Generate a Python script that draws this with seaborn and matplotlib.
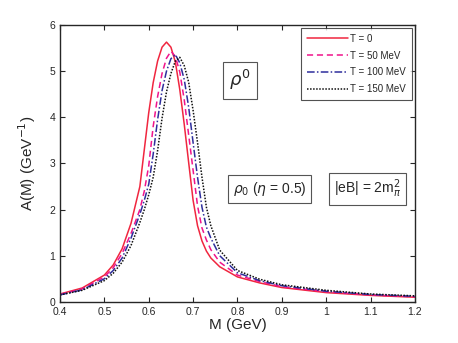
import numpy as np
import pandas as pd
import matplotlib
matplotlib.use("Agg")
import matplotlib.pyplot as plt
import seaborn as sns

# invariant mass grid (GeV)
mass = [0.40, 0.45, 0.50, 0.52, 0.54, 0.56, 0.58, 0.59, 0.60, 0.61, 0.62, 0.63,
        0.64, 0.65, 0.66, 0.67, 0.68, 0.69, 0.70, 0.71, 0.72, 0.73, 0.74, 0.76,
        0.80, 0.85, 0.90, 1.00, 1.10, 1.20]

# spectral function A(M) for each temperature
a_t0 = [0.17, 0.30, 0.58, 0.80, 1.15, 1.70, 2.50, 3.30, 4.10, 4.75, 5.22, 5.52,
        5.63, 5.52, 5.20, 4.60, 3.85, 3.02, 2.20, 1.65, 1.32, 1.10, 0.95, 0.76,
        0.54, 0.41, 0.31, 0.20, 0.14, 0.10]
a_t50 = [0.16, 0.28, 0.54, 0.74, 1.05, 1.48, 2.00, 2.40, 2.95, 3.80, 4.45, 4.95,
         5.28, 5.43, 5.32, 4.98, 4.38, 3.62, 2.85, 2.08, 1.60, 1.34, 1.13, 0.86,
         0.58, 0.44, 0.33, 0.22, 0.15, 0.11]
a_t100 = [0.15, 0.26, 0.50, 0.68, 0.95, 1.38, 1.90, 2.20, 2.55, 3.20, 3.95, 4.58,
          5.00, 5.27, 5.36, 5.18, 4.82, 4.22, 3.45, 2.70, 2.05, 1.62, 1.38, 1.00,
          0.63, 0.46, 0.35, 0.23, 0.16, 0.12]
a_t150 = [0.15, 0.25, 0.46, 0.62, 0.86, 1.22, 1.72, 2.00, 2.32, 2.70, 3.28, 3.98,
          4.55, 4.95, 5.22, 5.30, 5.12, 4.76, 4.15, 3.45, 2.70, 2.05, 1.65, 1.12,
          0.68, 0.49, 0.37, 0.25, 0.17, 0.13]

labels = ["T = 0", "T = 50 MeV", "T = 100 MeV", "T = 150 MeV"]
series = [a_t0, a_t50, a_t100, a_t150]
colors = ["#f0263f", "#f0148c", "#2e2e9c", "#111111"]
styles = ["-", (0, (4, 2.5)), (0, (5, 1.5, 1, 1.5)), (0, (1, 1))]

sns.set_style("ticks")
plt.rcParams['font.family'] = ['Liberation Sans', 'DejaVu Sans']
plt.rcParams['mathtext.fontset'] = 'dejavusans'

fig = plt.figure(figsize=(4.58, 3.43), dpi=100)
ax = fig.add_axes([0.131, 0.120, 0.775, 0.807])

for lab, vals, c, ls in zip(labels, series, colors, styles):
    df = pd.DataFrame({"M": mass, "A": vals})
    sns.lineplot(data=df, x="M", y="A", ax=ax, color=c, lw=1.1,
                 linestyle=ls, label=lab)

ax.set_xlim(0.4, 1.2)
ax.set_ylim(0, 6)
ax.set_xticks(np.arange(0.4, 1.21, 0.1))
ax.set_xticklabels(["0.4", "0.5", "0.6", "0.7", "0.8", "0.9", "1", "1.1", "1.2"])
ax.set_yticks(range(0, 7))
ax.tick_params(direction="in", top=True, right=True, labelsize=7.5,
               length=3.5, width=0.8, colors="#262626")
for sp in ax.spines.values():
    sp.set_visible(True)
    sp.set_linewidth(1.0)
    sp.set_color("#262626")

ax.set_xlabel("M (GeV)", fontsize=11, labelpad=1)
ax.set_ylabel(r"A(M) (GeV$^{-1}$)", fontsize=11, labelpad=8)

leg = ax.legend(loc="upper right", fontsize=7, frameon=True, fancybox=False,
                handlelength=4.2, handletextpad=0.3, borderpad=0.55,
                labelspacing=0.7, borderaxespad=0.35)
leg.get_frame().set_edgecolor("#262626")
leg.get_frame().set_linewidth(0.8)

box = dict(boxstyle="square,pad=0.35", fc="white", ec="#555555", lw=0.8)
ax.text(0.805, 4.8, r"$\rho^0$", fontsize=13, ha="center", va="center", bbox=box)
ax.text(0.872, 2.45, r"$\rho_0$ ($\eta$ = 0.5)", fontsize=10, ha="center",
        va="center", bbox=box)
ax.text(1.093, 2.45, r"|eB| = 2m$_{\pi}^{2}$", fontsize=10, ha="center",
        va="center", bbox=box)

fig.savefig("out.png", dpi=100)
